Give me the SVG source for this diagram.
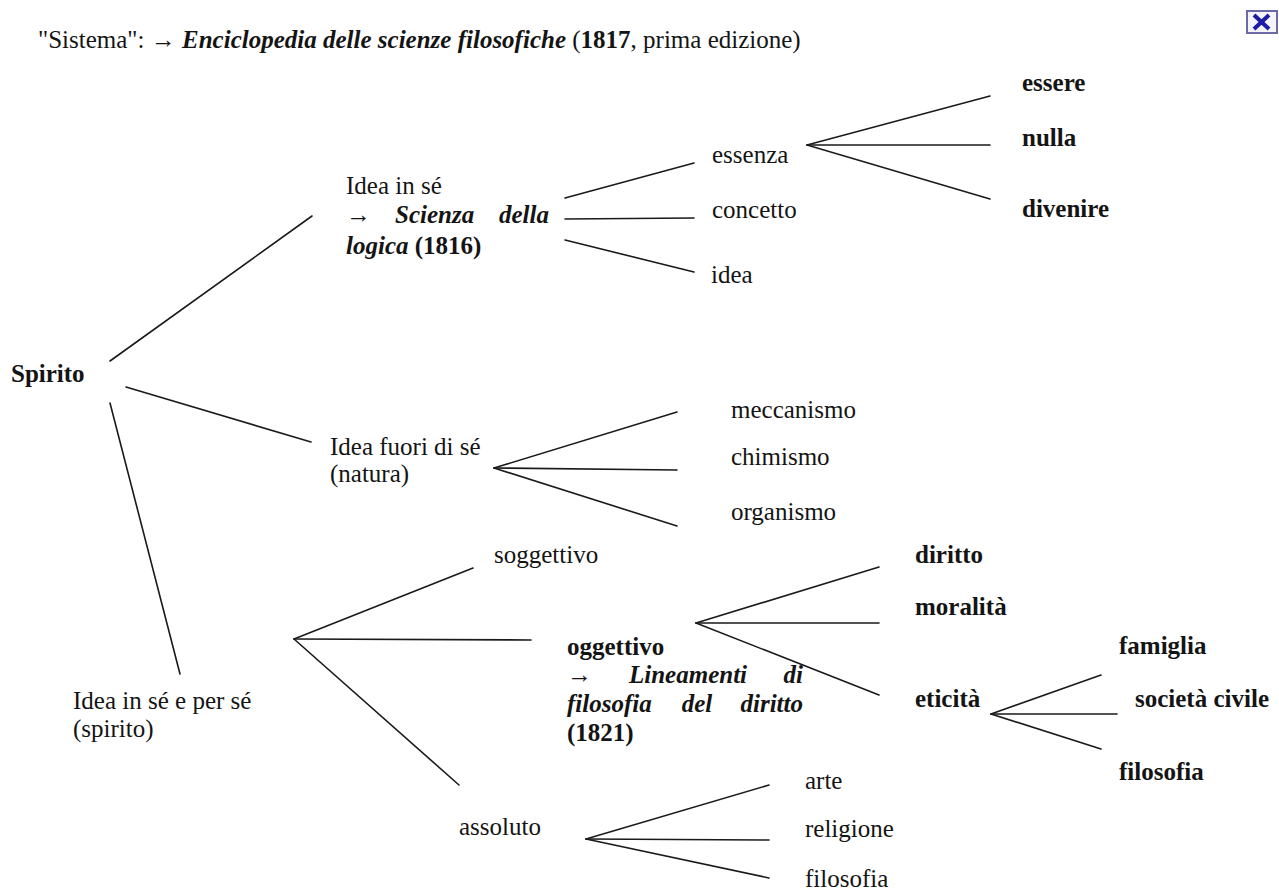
<svg xmlns="http://www.w3.org/2000/svg" width="1279" height="892" viewBox="0 0 1279 892">
<style>
text{font-family:"Liberation Serif","Times New Roman",serif;font-size:25px;fill:#141414}
.b{font-weight:bold}
.bi{font-weight:bold;font-style:italic}
.c line{stroke:#1a1a1a;stroke-width:1.6;stroke-linecap:round}
</style>
<rect width="1279" height="892" fill="#ffffff"/>
<g id="title"><text x="38" y="48">"Sistema": → <tspan class="bi">Enciclopedia delle scienze filosofiche</tspan> (<tspan class="b">1817</tspan>, prima edizione)</text></g>
<g id="close-icon">
<rect x="1247" y="11" width="30" height="22" fill="#f4f4fa" stroke="#6a6aa8" stroke-width="2"/>
<path d="M1254 15 L1269 29 M1269 15 L1254 29" stroke="#1c1caa" stroke-width="4"/>
</g>
<g class="c" id="connectors">
<line x1="110" y1="361" x2="312" y2="216"/>
<line x1="126" y1="387" x2="311" y2="442"/>
<line x1="110" y1="403" x2="180" y2="674"/>
<line x1="565" y1="198" x2="694" y2="163"/>
<line x1="565" y1="219" x2="694" y2="218"/>
<line x1="565" y1="240" x2="694" y2="272"/>
<line x1="807" y1="145" x2="990" y2="96"/>
<line x1="807" y1="145" x2="990" y2="145"/>
<line x1="807" y1="145" x2="990" y2="199"/>
<line x1="494" y1="468" x2="677" y2="412"/>
<line x1="494" y1="468" x2="677" y2="470"/>
<line x1="494" y1="468" x2="677" y2="526"/>
<line x1="294" y1="639" x2="473" y2="568"/>
<line x1="294" y1="639" x2="531" y2="640"/>
<line x1="294" y1="639" x2="459" y2="785"/>
<line x1="696" y1="623" x2="879" y2="567"/>
<line x1="696" y1="623" x2="879" y2="623"/>
<line x1="696" y1="623" x2="879" y2="695"/>
<line x1="991" y1="714" x2="1101" y2="675"/>
<line x1="991" y1="714" x2="1117" y2="714"/>
<line x1="991" y1="714" x2="1101" y2="749"/>
<line x1="586" y1="839" x2="769" y2="785"/>
<line x1="586" y1="839" x2="769" y2="840"/>
<line x1="586" y1="839" x2="769" y2="878"/>
</g>
<g id="spirito"><text class="b" x="11" y="382">Spirito</text></g>
<g id="idea-in-se">
<text x="346" y="194">Idea in sé</text>
<text x="346" y="223">→</text>
<text class="bi" x="395" y="223">Scienza</text>
<text class="bi" x="549" y="223" text-anchor="end">della</text>
<text x="346" y="254"><tspan class="bi">logica</tspan><tspan class="b"> (1816)</tspan></text>
</g>
<g id="essenza"><text x="712" y="163">essenza</text></g>
<g id="concetto"><text x="712" y="218">concetto</text></g>
<g id="idea"><text x="711" y="283">idea</text></g>
<g id="essere"><text class="b" x="1022" y="91">essere</text></g>
<g id="nulla"><text class="b" x="1022" y="146">nulla</text></g>
<g id="divenire"><text class="b" x="1022" y="217">divenire</text></g>
<g id="idea-fuori">
<text x="330" y="455">Idea fuori di sé</text>
<text x="330" y="482">(natura)</text>
</g>
<g id="meccanismo"><text x="731" y="418">meccanismo</text></g>
<g id="chimismo"><text x="731" y="465">chimismo</text></g>
<g id="organismo"><text x="731" y="520">organismo</text></g>
<g id="idea-in-se-per-se">
<text x="73" y="709">Idea in sé e per sé</text>
<text x="73" y="737">(spirito)</text>
</g>
<g id="soggettivo"><text x="494" y="563">soggettivo</text></g>
<g id="oggettivo">
<text class="b" x="567" y="655">oggettivo</text>
<text x="567" y="683">→</text>
<text class="bi" x="629" y="683">Lineamenti</text>
<text class="bi" x="803" y="683" text-anchor="end">di</text>
<text class="bi" x="567" y="712">filosofia</text>
<text class="bi" x="697" y="712" text-anchor="middle">del</text>
<text class="bi" x="803" y="712" text-anchor="end">diritto</text>
<text class="b" x="567" y="741">(1821)</text>
</g>
<g id="diritto"><text class="b" x="915" y="563">diritto</text></g>
<g id="moralita"><text class="b" x="915" y="615">moralità</text></g>
<g id="eticita"><text class="b" x="915" y="707">eticità</text></g>
<g id="famiglia"><text class="b" x="1119" y="654">famiglia</text></g>
<g id="societa-civile"><text class="b" x="1135" y="707">società civile</text></g>
<g id="filosofia-eticita"><text class="b" x="1119" y="780">filosofia</text></g>
<g id="assoluto"><text x="459" y="835">assoluto</text></g>
<g id="arte"><text x="805" y="789">arte</text></g>
<g id="religione"><text x="805" y="837">religione</text></g>
<g id="filosofia-assoluto"><text x="805" y="887">filosofia</text></g>
</svg>
